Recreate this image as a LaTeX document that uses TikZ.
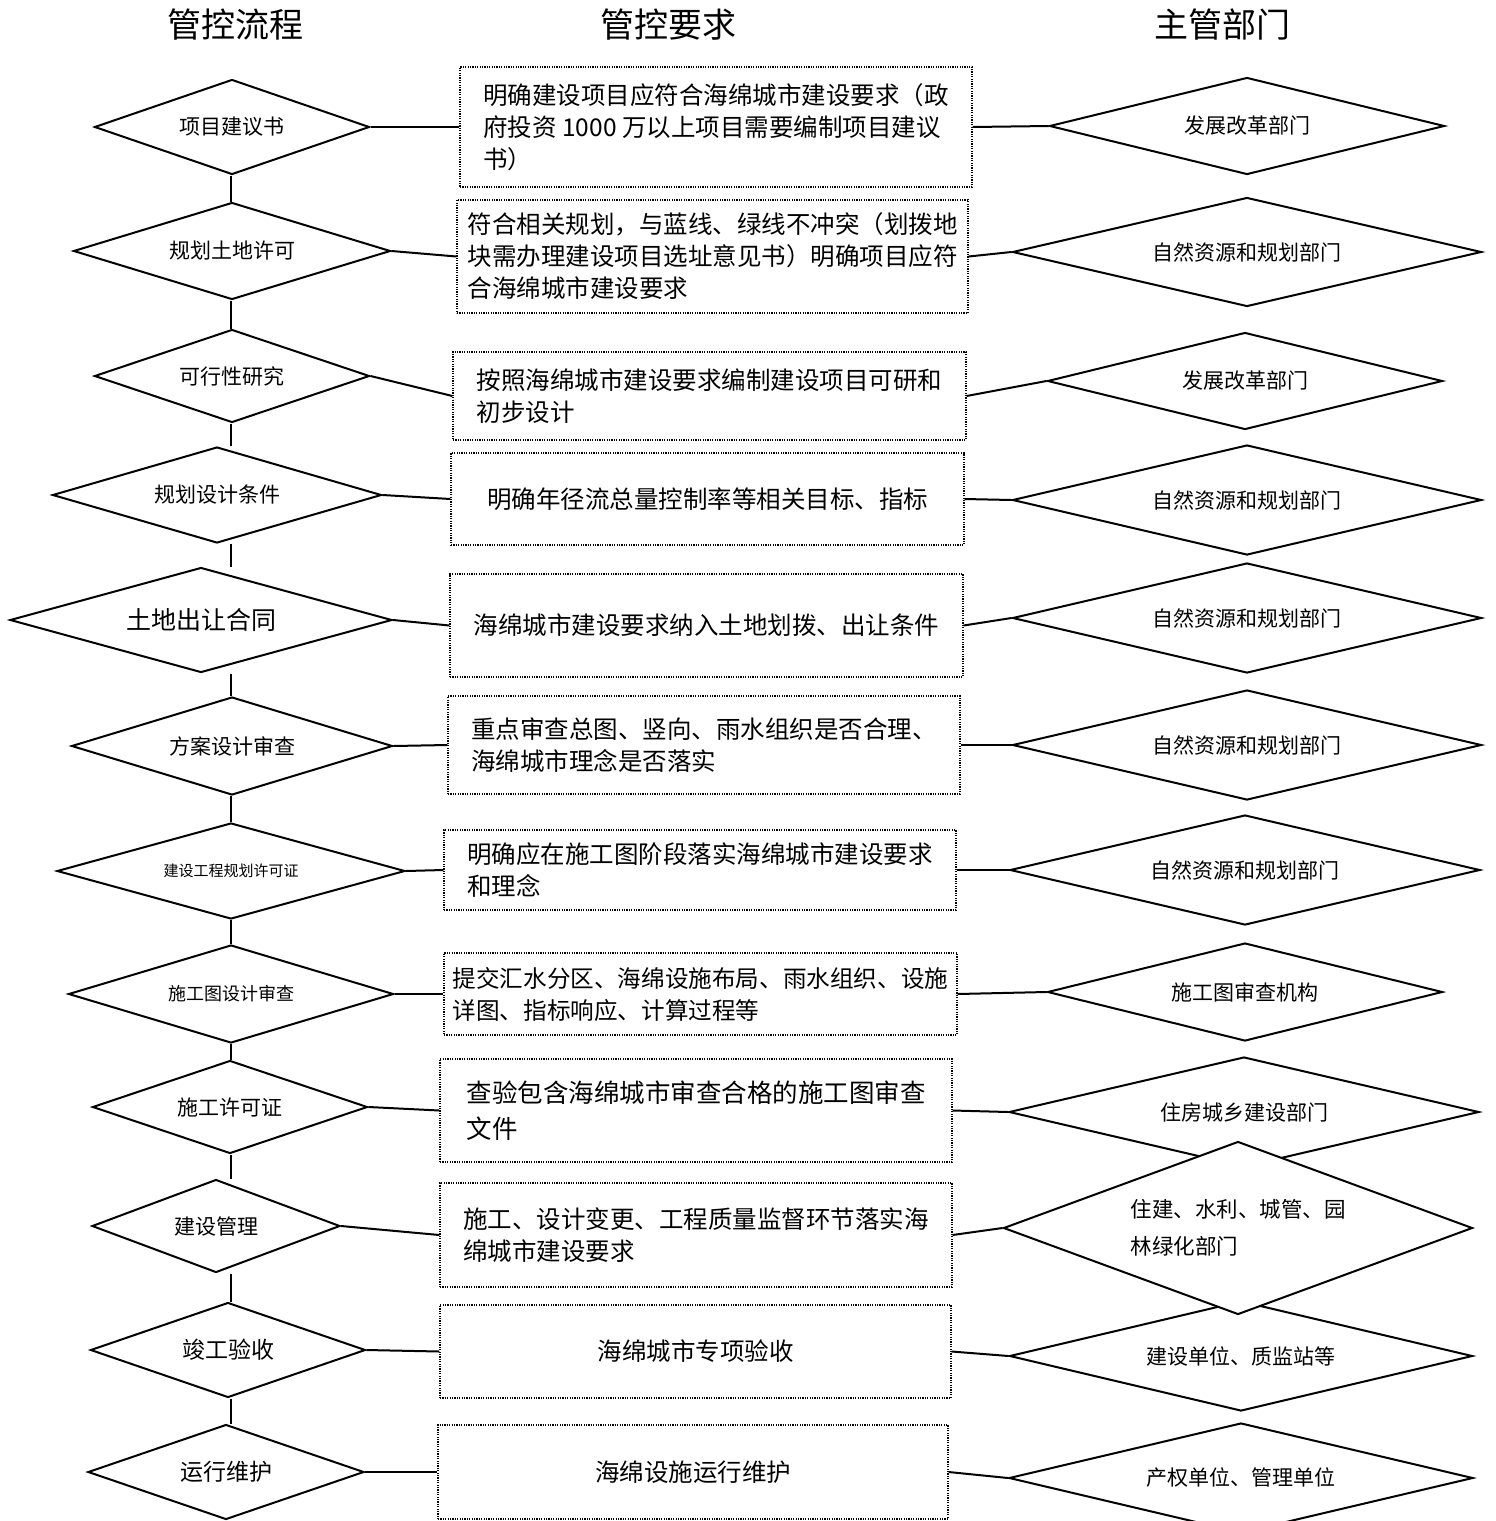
\documentclass[tikz,border=0pt]{standalone}
\usepackage{fontspec}
\setmainfont{Noto Sans CJK SC}
\usepackage{tikz}
\usetikzlibrary{shapes.geometric}

\begin{document}
\begin{tikzpicture}[x=0.5pt, y=-0.5pt,
  flow/.style={draw, diamond, shape aspect=4, line width=1pt, inner sep=0pt, align=center, font=\fontsize{10.5}{13}\selectfont},
  dept/.style={flow, fill=white},
  req/.style={draw, line width=0.6pt, dash pattern=on 0.6pt off 0.6pt, align=left, inner sep=0pt, font=\fontsize{12.25}{16}\selectfont},
  head/.style={font=\fontsize{17}{20}\selectfont},
  link/.style={line width=1pt}]
\useasboundingbox (0,0) rectangle (1495,1521);
\coordinate (spine) at (231,0);
% column heads
\node[head] (hflow) at (235,25) {管控流程};
\node[head] (hreq) at (668,25) {管控要求};
\node[head] (hdept) at (1222,25) {主管部门};
% flow steps
\node[flow, minimum width=137.5pt, minimum height=47.5pt] (d1) at (232,127) {项目建议书};
\node[flow, minimum width=158.5pt, minimum height=48.5pt] (d2) at (232,251) {规划土地许可};
\node[flow, minimum width=137.5pt, minimum height=46.5pt] (d3) at (232,376) {可行性研究};
\node[flow, minimum width=164.5pt, minimum height=48pt] (d4) at (217,495) {规划设计条件};
\node[flow, minimum width=191pt, minimum height=52.5pt, font=\fontsize{12.5}{15}\selectfont] (d5) at (201,620) {土地出让合同};
\node[flow, minimum width=160.5pt, minimum height=49pt] (d6) at (232,746) {方案设计审查};
\node[flow, minimum width=174pt, minimum height=48pt, font=\fontsize{7.5}{9}\selectfont] (d7) at (231,871) {建设工程规划许可证};
\node[flow, minimum width=162.5pt, minimum height=49pt, font=\fontsize{9}{11}\selectfont] (d8) at (231,994) {施工图设计审查};
\node[flow, minimum width=137.5pt, minimum height=46.5pt] (d9) at (230,1107) {施工许可证};
\node[flow, minimum width=124pt, minimum height=46.5pt] (d10) at (216,1226) {建设管理};
\node[flow, minimum width=137.5pt, minimum height=47.5pt, font=\fontsize{11.5}{14}\selectfont] (d11) at (228,1350) {竣工验收};
\node[flow, minimum width=138pt, minimum height=47.5pt, font=\fontsize{11.5}{14}\selectfont] (d12) at (226,1472) {运行维护};
% requirements
\node[req, minimum width=256pt, minimum height=60pt] (b1) at (716,127) {明确建设项目应符合海绵城市建设要求（政\\府投资 1000 万以上项目需要编制项目建议\\书）};
\node[req, minimum width=255.5pt, minimum height=56.5pt] (b2) at (712.5,256.5) {符合相关规划，与蓝线、绿线不冲突（划拨地\\块需办理建设项目选址意见书）明确项目应符\\合海绵城市建设要求};
\node[req, minimum width=256.5pt, minimum height=44pt] (b3) at (709.5,396) {按照海绵城市建设要求编制建设项目可研和\\初步设计};
\node[req, minimum width=256.5pt, minimum height=46pt] (b4) at (707.5,499) {明确年径流总量控制率等相关目标、指标};
\node[req, minimum width=256.5pt, minimum height=51.5pt] (b5) at (706.5,625.5) {海绵城市建设要求纳入土地划拨、出让条件};
\node[req, minimum width=256pt, minimum height=49pt] (b6) at (704,745) {重点审查总图、竖向、雨水组织是否合理、\\海绵城市理念是否落实};
\node[req, minimum width=256pt, minimum height=40pt] (b7) at (700,870) {明确应在施工图阶段落实海绵城市建设要求\\和理念};
\node[req, minimum width=256.5pt, minimum height=41pt, font=\fontsize{11.8}{16}\selectfont] (b8) at (700.5,994) {提交汇水分区、海绵设施布局、雨水组织、设施\\详图、指标响应、计算过程等};
\node[req, minimum width=256pt, minimum height=51.5pt, font=\fontsize{12.75}{18}\selectfont] (b9) at (696,1110.5) {查验包含海绵城市审查合格的施工图审查\\文件};
\node[req, minimum width=256pt, minimum height=52pt] (b10) at (696,1235) {施工、设计变更、工程质量监督环节落实海\\绵城市建设要求};
\node[req, minimum width=255.5pt, minimum height=46.5pt] (b11) at (695.5,1351.5) {海绵城市专项验收};
\node[req, minimum width=255pt, minimum height=47pt] (b12) at (693,1472) {海绵设施运行维护};
% departments
\node[dept, minimum width=197.5pt, minimum height=48.5pt] (r1) at (1247,126) {发展改革部门};
\node[dept, minimum width=234.5pt, minimum height=54.5pt] (r2) at (1247,252) {自然资源和规划部门};
\node[dept, minimum width=197.5pt, minimum height=48.5pt] (r3) at (1245,381) {发展改革部门};
\node[dept, minimum width=234.5pt, minimum height=55pt] (r4) at (1247,500) {自然资源和规划部门};
\node[dept, minimum width=234.5pt, minimum height=55pt] (r5) at (1247,618) {自然资源和规划部门};
\node[dept, minimum width=234.5pt, minimum height=55pt] (r6) at (1247,745) {自然资源和规划部门};
\node[dept, minimum width=235pt, minimum height=55pt] (r7) at (1245,870) {自然资源和规划部门};
\node[dept, minimum width=197.5pt, minimum height=49pt] (r8) at (1245,992) {施工图审查机构};
\node[dept, minimum width=235pt, minimum height=55pt] (r9) at (1244,1112) {住房城乡建设部门};
\node[dept, minimum width=231.5pt, minimum height=55pt] (r11) at (1241,1356) {建设单位、质监站等};
\node[dept, minimum width=232pt, minimum height=55pt] (r12) at (1241,1478) {产权单位、管理单位};
\node[dept, minimum width=234.5pt, minimum height=86.5pt, align=left, font=\fontsize{10.75}{18.5}\selectfont] (r10) at (1238,1228) {住建、水利、城管、园\\林绿化部门};
% links
\foreach \i in {1,...,12} {
  \draw[link] (d\i.east) -- (b\i.west);
  \draw[link] (b\i.east) -- (r\i.west);
}
\foreach \a/\b in {d1/d2,d2/d3,d3/d4,d4/d5,d5/d6,d6/d7,d7/d8,d8/d9,d9/d10,d10/d11,d11/d12}
  \draw[link] (\a.south -| spine) -- (\b.north -| spine);
\end{tikzpicture}
\end{document}
